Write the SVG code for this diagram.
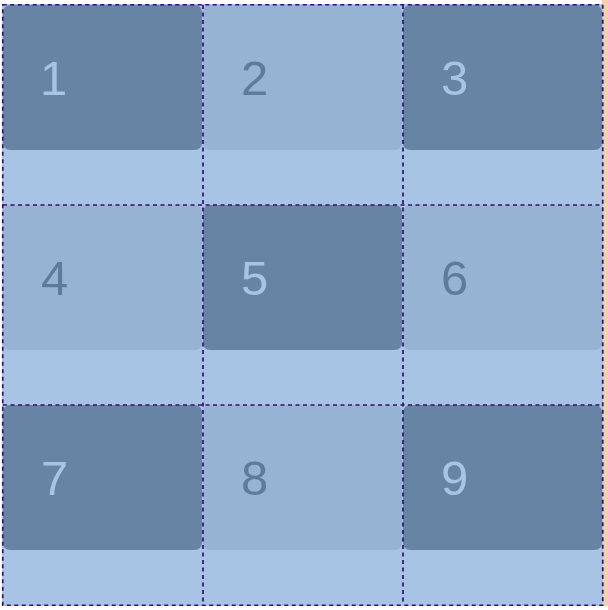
<svg xmlns="http://www.w3.org/2000/svg" width="608" height="610" viewBox="0 0 608 610">
<defs>
<style>
.dark{fill:#6884a4}
.mid{fill:#97b3d4}
.lt{font-family:"Liberation Sans",Arial,sans-serif;font-size:49px;fill:#a8c4e4}
.dk{font-family:"Liberation Sans",Arial,sans-serif;font-size:49px;fill:#5f7b9c}
.grid{stroke:#34106c;stroke-width:1.7;stroke-dasharray:4 3.5;fill:none}
</style>
</defs>
<rect x="0" y="0" width="608" height="610" fill="#ffffff"/>
<rect x="602" y="0" width="6" height="606" fill="#f6d0a8"/>
<rect x="2" y="4" width="601" height="602" fill="#a8c4e4"/>
<g id="n1"><rect class="dark" x="3" y="5" width="199" height="145" rx="7"/><text class="lt" x="40" y="95">1</text></g>
<g id="n2"><rect class="mid" x="203" y="5" width="199" height="145" rx="7"/><text class="dk" x="241" y="95">2</text></g>
<g id="n3"><rect class="dark" x="403" y="5" width="199" height="145" rx="7"/><text class="lt" x="441" y="95">3</text></g>
<g id="n4"><rect class="mid" x="3" y="205" width="199" height="145" rx="7"/><text class="dk" x="41" y="295">4</text></g>
<g id="n5"><rect class="dark" x="203" y="205" width="199" height="145" rx="7"/><text class="lt" x="241" y="295">5</text></g>
<g id="n6"><rect class="mid" x="403" y="205" width="199" height="145" rx="7"/><text class="dk" x="441" y="295">6</text></g>
<g id="n7"><rect class="dark" x="3" y="405" width="199" height="145" rx="7"/><text class="lt" x="41" y="495">7</text></g>
<g id="n8"><rect class="mid" x="203" y="405" width="199" height="145" rx="7"/><text class="dk" x="241" y="495">8</text></g>
<g id="n9"><rect class="dark" x="403" y="405" width="199" height="145" rx="7"/><text class="lt" x="441" y="495">9</text></g>
<g id="connectors">
<rect class="grid" x="2.75" y="4.75" width="600" height="600.5"/>
<line class="grid" x1="203" y1="5" x2="203" y2="605"/>
<line class="grid" x1="403" y1="5" x2="403" y2="605"/>
<line class="grid" x1="3" y1="205" x2="603" y2="205"/>
<line class="grid" x1="3" y1="405" x2="603" y2="405"/>
</g>
</svg>
